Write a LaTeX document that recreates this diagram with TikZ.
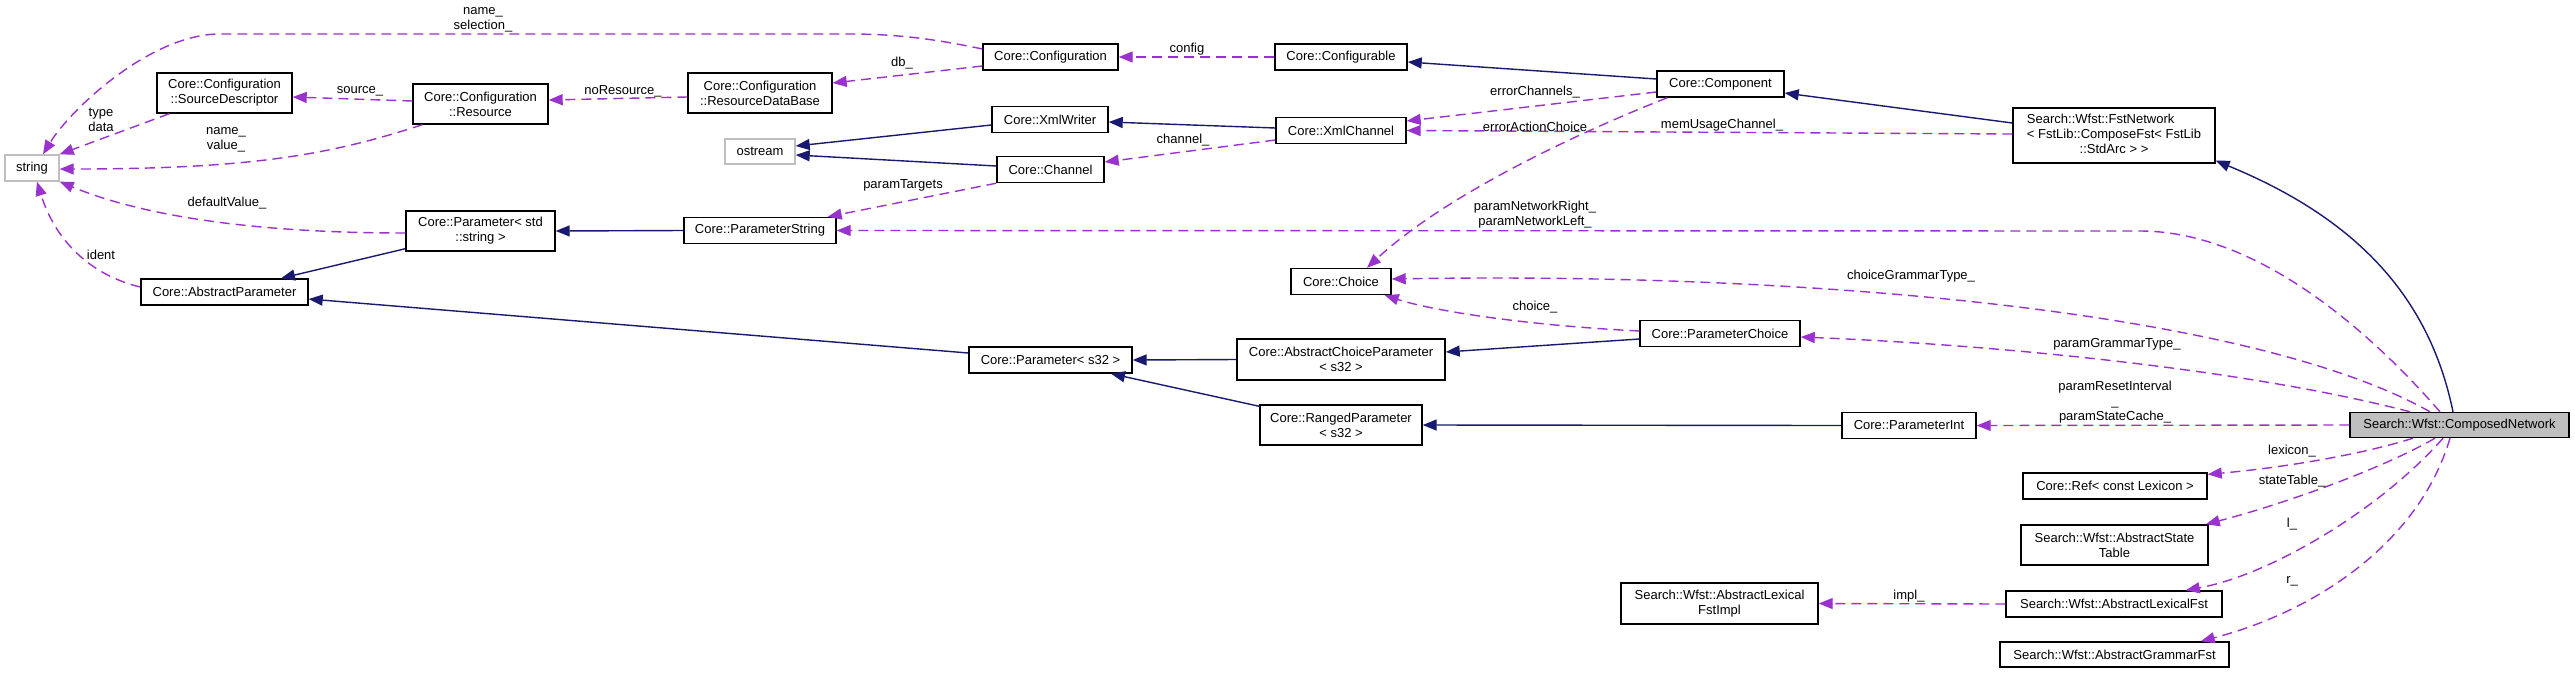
\documentclass[tikz,border=0pt]{standalone}
\usepackage{fontspec}
\setmainfont{Liberation Sans}
\usetikzlibrary{arrows.meta}
\definecolor{inhc}{HTML}{191970}
\definecolor{usec}{HTML}{9A32CD}
\definecolor{grayb}{HTML}{BFBFBF}
\begin{document}
\begin{tikzpicture}[x=1pt,y=-1pt,
  box/.style={draw=black,line width=1.4pt,inner sep=0pt,align=center,font=\fontsize{13}{15}\selectfont,fill=white},
  gbox/.style={box,draw=grayb},
  lbl/.style={inner sep=0pt,align=center,font=\fontsize{13}{15}\selectfont},
  inh/.style={draw=inhc,line width=1.4pt,-{Triangle[length=14pt,width=11pt]}},
  use/.style={draw=usec,line width=1.4pt,dash pattern=on 10pt off 6pt,-{Triangle[length=14pt,width=11pt]}},
]
\useasboundingbox[fill=white] (0,0) rectangle (2575,673);
% nodes
\node[gbox,minimum width=54pt,minimum height=26pt] (str) at (32,168) {string};
\node[box,minimum width=135pt,minimum height=40pt] (srcdesc) at (224.5,93) {Core::Configuration\\::SourceDescriptor};
\node[box,minimum width=135pt,minimum height=40pt] (res) at (480.5,104) {Core::Configuration\\::Resource};
\node[box,minimum width=144pt,minimum height=40pt] (rdb) at (760,93) {Core::Configuration\\::ResourceDataBase};
\node[box,minimum width=135pt,minimum height=26pt] (conf) at (1050.5,57) {Core::Configuration};
\node[box,minimum width=132pt,minimum height=26pt] (cfgable) at (1341,57) {Core::Configurable};
\node[box,minimum width=127pt,minimum height=26pt] (comp) at (1720.5,84) {Core::Component};
\node[box,minimum width=202pt,minimum height=55pt] (fstnet) at (2114,135.5) {\begin{tabular}{@{}l@{}}Search::Wfst::FstNetwork\\< FstLib::ComposeFst< FstLib\\\multicolumn{1}{@{}c@{}}{::StdArc > >}\end{tabular}};
\node[gbox,minimum width=70pt,minimum height=25pt] (ostr) at (760,151.5) {ostream};
\node[box,minimum width=116pt,minimum height=26pt] (xmlw) at (1050,119.5) {Core::XmlWriter};
\node[box,minimum width=130pt,minimum height=26pt] (xmlc) at (1341,130.5) {Core::XmlChannel};
\node[box,minimum width=107pt,minimum height=26pt] (chan) at (1050.5,169.5) {Core::Channel};
\node[box,minimum width=149pt,minimum height=40pt] (pstd) at (480.5,231) {Core::Parameter< std\\::string >};
\node[box,minimum width=152pt,minimum height=26pt] (pstr) at (760,230.5) {Core::ParameterString};
\node[box,minimum width=167pt,minimum height=26pt] (absp) at (224.5,292) {Core::AbstractParameter};
\node[box,minimum width=100pt,minimum height=26pt] (choice) at (1341,281.5) {Core::Choice};
\node[box,minimum width=160pt,minimum height=26pt] (pchoice) at (1720,333.5) {Core::ParameterChoice};
\node[box,minimum width=163pt,minimum height=26pt] (ps32) at (1050.5,360) {Core::Parameter< s32 >};
\node[box,minimum width=208pt,minimum height=41pt] (acp) at (1341,359.5) {Core::AbstractChoiceParameter\\< s32 >};
\node[box,minimum width=162pt,minimum height=40pt] (rp) at (1341,425) {Core::RangedParameter\\< s32 >};
\node[box,minimum width=134pt,minimum height=26pt] (pint) at (1909,425.5) {Core::ParameterInt};
\node[box,fill=grayb,minimum width=219pt,minimum height=25pt] (cn) at (2459.5,425) {Search::Wfst::ComposedNetwork};
\node[box,minimum width=184pt,minimum height=26pt] (ref) at (2115,486) {Core::Ref< const Lexicon >};
\node[box,minimum width=187pt,minimum height=40pt] (ast) at (2114.5,545) {Search::Wfst::AbstractState\\Table};
\node[box,minimum width=216pt,minimum height=26pt] (alf) at (2114,604) {Search::Wfst::AbstractLexicalFst};
\node[box,minimum width=229pt,minimum height=25pt] (agf) at (2114.5,654.5) {Search::Wfst::AbstractGrammarFst};
\node[box,minimum width=197pt,minimum height=41pt] (impl) at (1719.5,603.5) {Search::Wfst::AbstractLexical\\FstImpl};
% inheritance
\draw[inh] ([yshift=5pt]comp.west) -- ([yshift=-5pt]cfgable.east);
\draw[inh] ([yshift=12.5pt]fstnet.west) -- ([yshift=-9pt]comp.east);
\draw[inh] ([xshift=-6.5pt]cn.north) .. controls (2430,300) and (2360,220) .. ([yshift=3pt]fstnet.south east);
\draw[inh] ([yshift=2.5pt]xmlc.west) -- ([yshift=-2.5pt]xmlw.east);
\draw[inh] ([yshift=-5.5pt]xmlw.west) -- ([yshift=5.5pt]ostr.east);
\draw[inh] ([yshift=3.5pt]chan.west) -- ([yshift=-3.5pt]ostr.east);
\draw[inh] (pstr.west) -- (pstd.east);
\draw[inh] ([yshift=3pt]pstd.south west) -- ([xshift=56.5pt]absp.north);
\draw[inh] ([yshift=7pt]ps32.west) -- ([yshift=-7pt]absp.east);
\draw[inh] (acp.west) -- (ps32.east);
\draw[inh] ([yshift=-2pt]rp.north west) -- ([xshift=60.5pt]ps32.south);
\draw[inh] ([yshift=-5.5pt]pchoice.west) -- ([yshift=7.5pt]acp.east);
\draw[inh] (pint.west) -- (rp.east);
% usage
\draw[use] ([yshift=8pt]conf.west) .. controls (940,40) and (900,34) .. (850,34) -- (220,34) .. controls (150,34) and (70,110) .. ([xshift=11pt]str.north);
\draw[use] ([xshift=13pt]srcdesc.south west) -- (str.north east);
\draw[use] ([xshift=10pt]res.south west) .. controls (330,155) and (250,169) .. ([yshift=-1pt]str.east);
\draw[use] ([yshift=-2pt]pstd.west) .. controls (250,233) and (140,215) .. (str.south east);
\draw[use] ([yshift=5pt]absp.west) .. controls (90,275) and (55,240) .. ([xshift=5pt]str.south);
\draw[use] ([yshift=3pt]res.west) -- ([yshift=-4pt]srcdesc.east);
\draw[use] ([yshift=-4pt]rdb.west) -- ([yshift=4pt]res.east);
\draw[use] ([yshift=-9pt]conf.west) -- ([yshift=10pt]rdb.east);
\draw[use] (cfgable.west) -- (conf.east);
\draw[use] ([yshift=-8pt]comp.west) -- ([yshift=9.5pt]xmlc.east);
\draw[use] ([yshift=1.5pt]fstnet.west) -- (xmlc.east);
\draw[use] ([yshift=-9.5pt]xmlc.west) -- ([yshift=7.5pt]chan.east);
\draw[use] (chan.south west) -- ([xshift=-9pt]pstr.north east);
\draw[use] ([xshift=11pt]comp.south west) .. controls (1560,140) and (1440,200) .. ([xshift=26pt]choice.north);
\draw[use] ([xshift=-19.5pt]cn.north) .. controls (2360,320) and (2250,231) .. (2140,231) -- (pstr.east);
\draw[use] ([xshift=-29.5pt]cn.north) .. controls (2250,310) and (1800,272) .. ([yshift=2.5pt]choice.east);
\draw[use] ([xshift=-49.5pt]cn.north) .. controls (2250,370) and (2000,345) .. ([yshift=-3.5pt]pchoice.east);
\draw[use] ([yshift=2.5pt]pchoice.west) .. controls (1520,325) and (1430,310) .. ([xshift=-7pt]choice.south east);
\draw[use] (cn.west) -- (pint.east);
\draw[use] ([xshift=-46.5pt]cn.south) .. controls (2360,455) and (2280,468) .. ([yshift=-2pt]ref.north east);
\draw[use] ([xshift=-24.5pt]cn.south) .. controls (2380,470) and (2280,505) .. ([xshift=-3pt]ast.north east);
\draw[use] ([xshift=-16.5pt]cn.south) .. controls (2380,510) and (2270,575) .. ([xshift=-37pt]alf.north east);
\draw[use] ([xshift=-9.5pt]cn.south) .. controls (2420,540) and (2320,610) .. ([xshift=-29pt]agf.north east);
\draw[use] (alf.west) -- (impl.east);
% labels
\node[lbl] (l1) at (483,20) {name\_\\selection\_};
\node[lbl] (l2) at (101,120) {type\\data};
\node[lbl] (l3) at (226,139.5) {name\_\\value\_};
\node[lbl] (l4) at (360,91) {source\_};
\node[lbl] (l5) at (623,91) {noResource\_};
\node[lbl] (l6) at (227,203) {defaultValue\_};
\node[lbl] (l7) at (101,255) {ident};
\node[lbl] (l8) at (902,63) {db\_};
\node[lbl] (l9) at (1187,49) {config};
\node[lbl] (l10) at (1183,140) {channel\_};
\node[lbl] (l11) at (903,185) {paramTargets};
\node[lbl] (l12) at (1535,92) {errorChannels\_};
\node[lbl] (l13) at (1535,127) {errorActionChoice};
\node[lbl] (l14) at (1722,125) {memUsageChannel\_};
\node[lbl] (l15) at (1535,215) {paramNetworkRight\_\\paramNetworkLeft\_};
\node[lbl] (l16) at (1911,276) {choiceGrammarType\_};
\node[lbl] (l17) at (1535,307) {choice\_};
\node[lbl] (l18) at (2117,344) {paramGrammarType\_};
\node[lbl] (l19) at (2115,402) {paramResetInterval\\\_\\paramStateCache\_};
\node[lbl] (l20) at (2292,451) {lexicon\_};
\node[lbl] (l21) at (2292,481) {stateTable\_};
\node[lbl] (l22) at (2292,524) {l\_};
\node[lbl] (l23) at (2292,581) {r\_};
\node[lbl] (l24) at (1909,596) {impl\_};
\end{tikzpicture}
\end{document}
